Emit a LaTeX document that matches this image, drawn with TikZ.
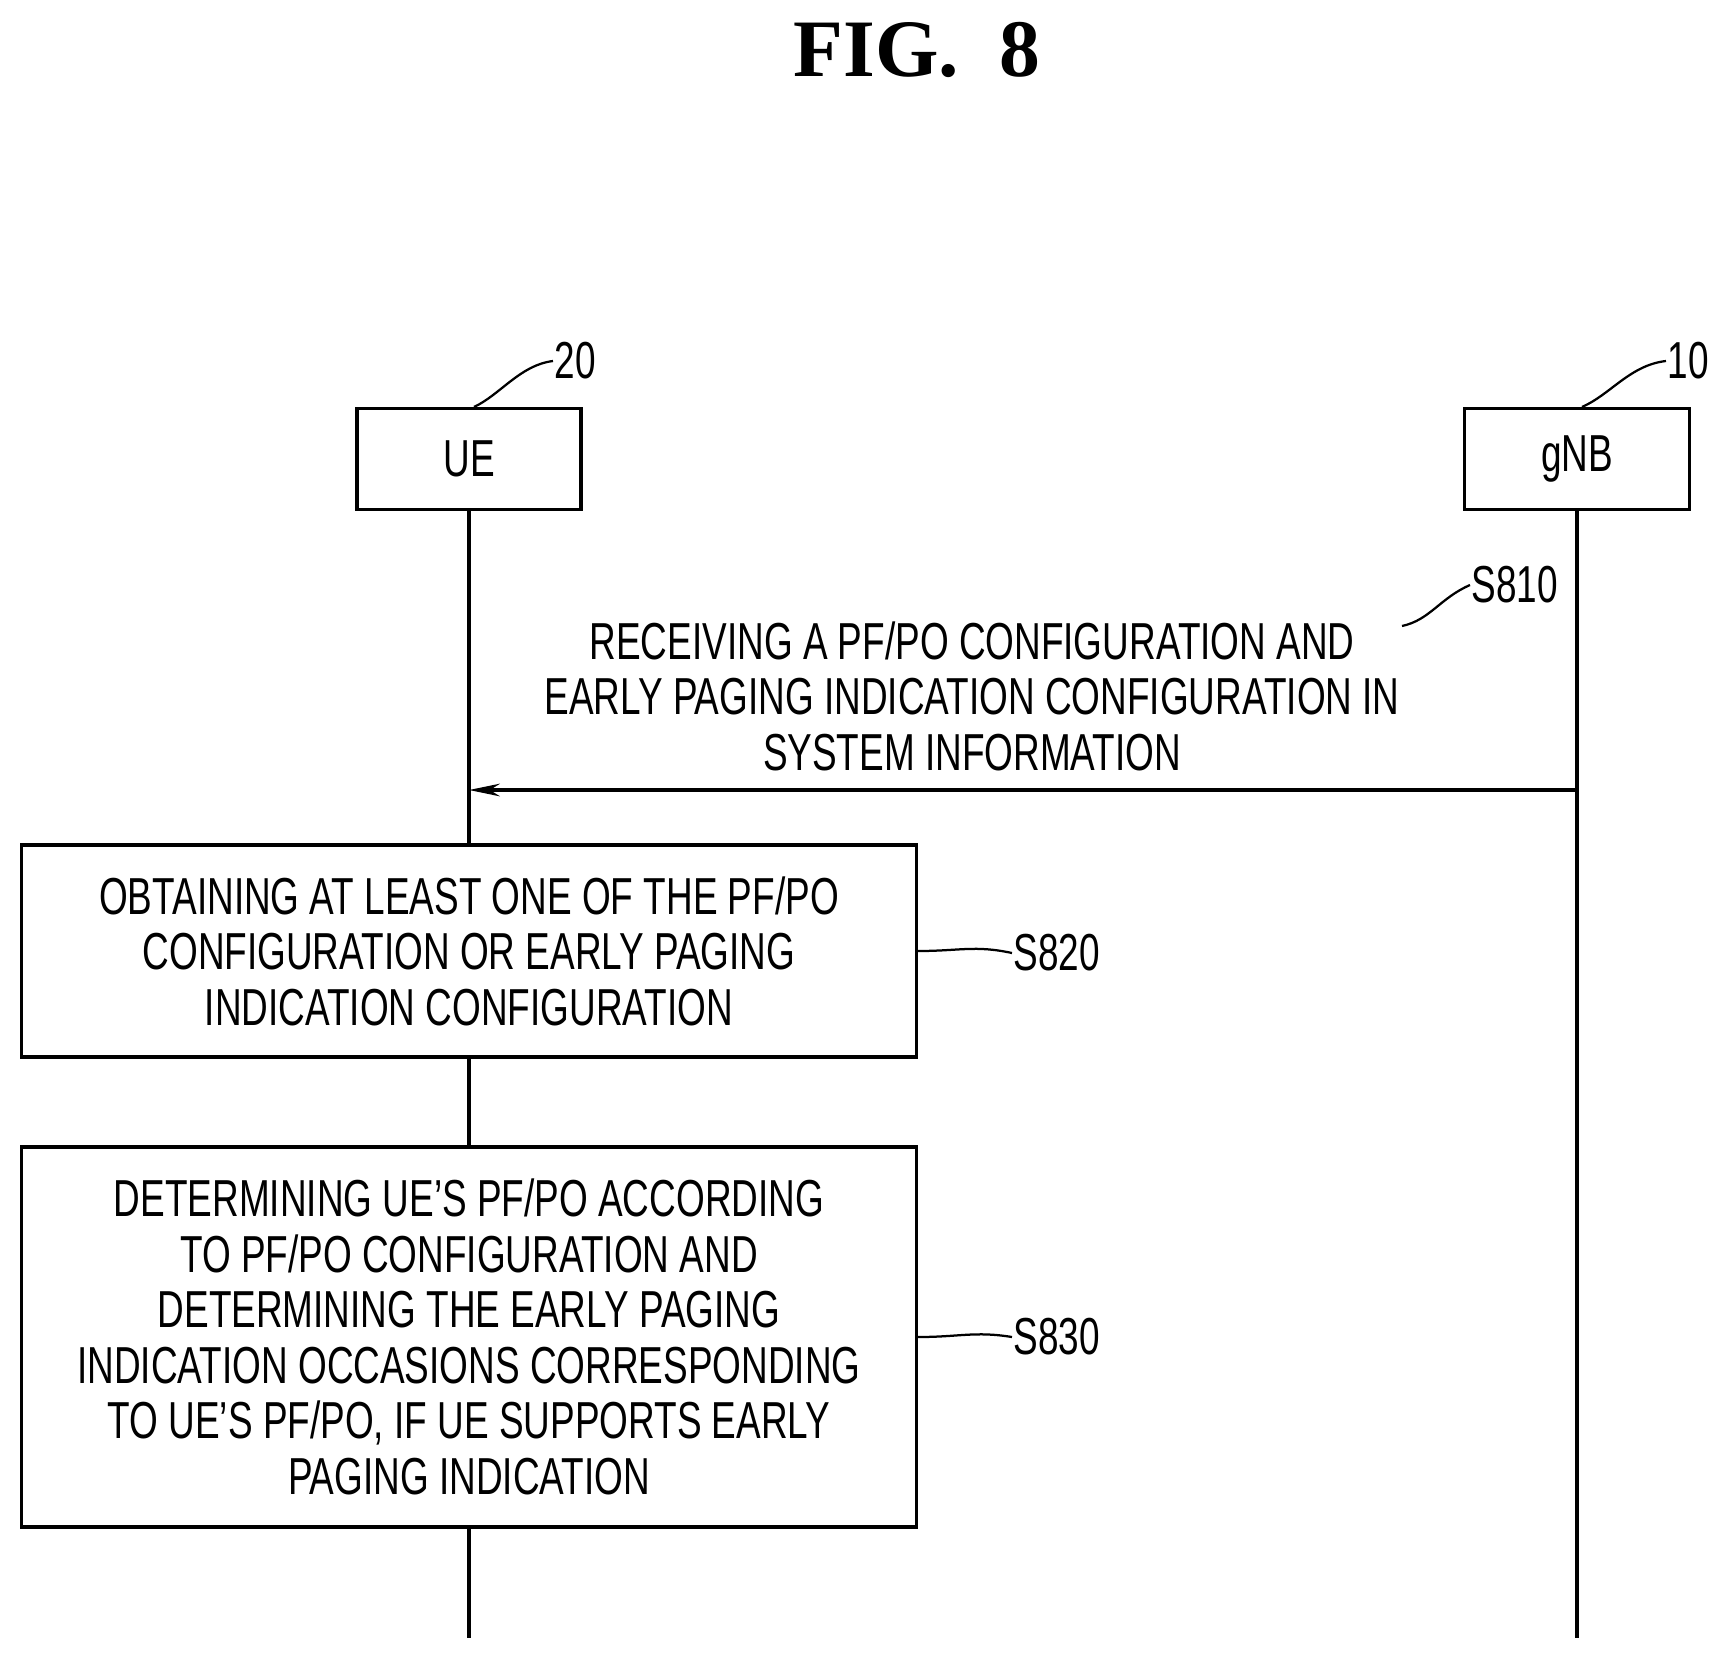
\documentclass[tikz,border=0pt]{standalone}
\usepackage{fontspec}
\setmainfont{Liberation Sans}[FakeStretch=0.71]
\newfontfamily\titlefont{Liberation Serif}
\usetikzlibrary{arrows.meta}
\begin{document}
\begin{tikzpicture}[x=0.025cm,y=-0.025cm,line width=2.2pt,
  txt/.style={font=\fontsize{37}{39.5}\selectfont,align=center,inner sep=0},
  box/.style={draw,minimum width=#1*0.025cm,inner sep=0},
  lead/.style={line width=1.6pt}]
\useasboundingbox (0,0) rectangle (1728,1652);
\node[font=\titlefont\bfseries\fontsize{58}{62}\selectfont] (title) at (917,50) {FIG.\ \ 8};
\node[box=224,minimum height=101*0.025cm,txt] (ue) at (469,459) {UE};
\node[box=225,minimum height=101*0.025cm,txt] (gnb) at (1577,459) {gNB};
\node[txt,anchor=west] (l20) at (553,361) {20};
\node[txt,anchor=west] (l10) at (1666,361) {10};
\draw[lead] (ue.north) ++(5,0) .. controls (500,395) and (520,365) .. (l20.west);
\draw[lead] (gnb.north) ++(5,0) .. controls (1610,395) and (1630,365) .. (l10.west);
\coordinate (ueend) at (469,1638);
\coordinate (gnbend) at (1577,1638);
\coordinate (ua) at (469,790);
\coordinate (ga) at (1577,790);
\node[txt] (m810) at (972,696) {RECEIVING A PF/PO CONFIGURATION AND\\EARLY PAGING INDICATION CONFIGURATION IN\\SYSTEM INFORMATION};
\node[txt,anchor=west] (s810) at (1470,585) {S810};
\draw[lead] (1402,626) .. controls (1430,620) and (1440,598) .. (s810.west);
\node[box=895,minimum height=212*0.025cm,txt] (b820) at (469,951) {OBTAINING AT LEAST ONE OF THE PF/PO\\CONFIGURATION OR EARLY PAGING\\INDICATION CONFIGURATION};
\node[txt,anchor=west] (s820) at (1012,953) {S820};
\draw[lead] (b820.east) .. controls (960,951) and (975,945) .. (s820.west);
\node[box=895,minimum height=380*0.025cm,txt] (b830) at (469,1337) {DETERMINING UE’S PF/PO ACCORDING\\TO PF/PO CONFIGURATION AND\\DETERMINING THE EARLY PAGING\\INDICATION OCCASIONS CORRESPONDING\\TO UE'S PF/PO, IF UE SUPPORTS EARLY\\PAGING INDICATION};
\node[txt,anchor=west] (s830) at (1012,1337) {S830};
\draw[lead] (b830.east) .. controls (960,1337) and (975,1331) .. (s830.west);
\draw (ue.south) -- (b820.north);
\draw (b820.south) -- (b830.north);
\draw (b830.south) -- (ueend);
\draw (gnb.south) -- (gnbend);
\draw[-{Stealth[length=22pt,width=9pt]}] (ga) -- (ua);
\end{tikzpicture}
\end{document}
